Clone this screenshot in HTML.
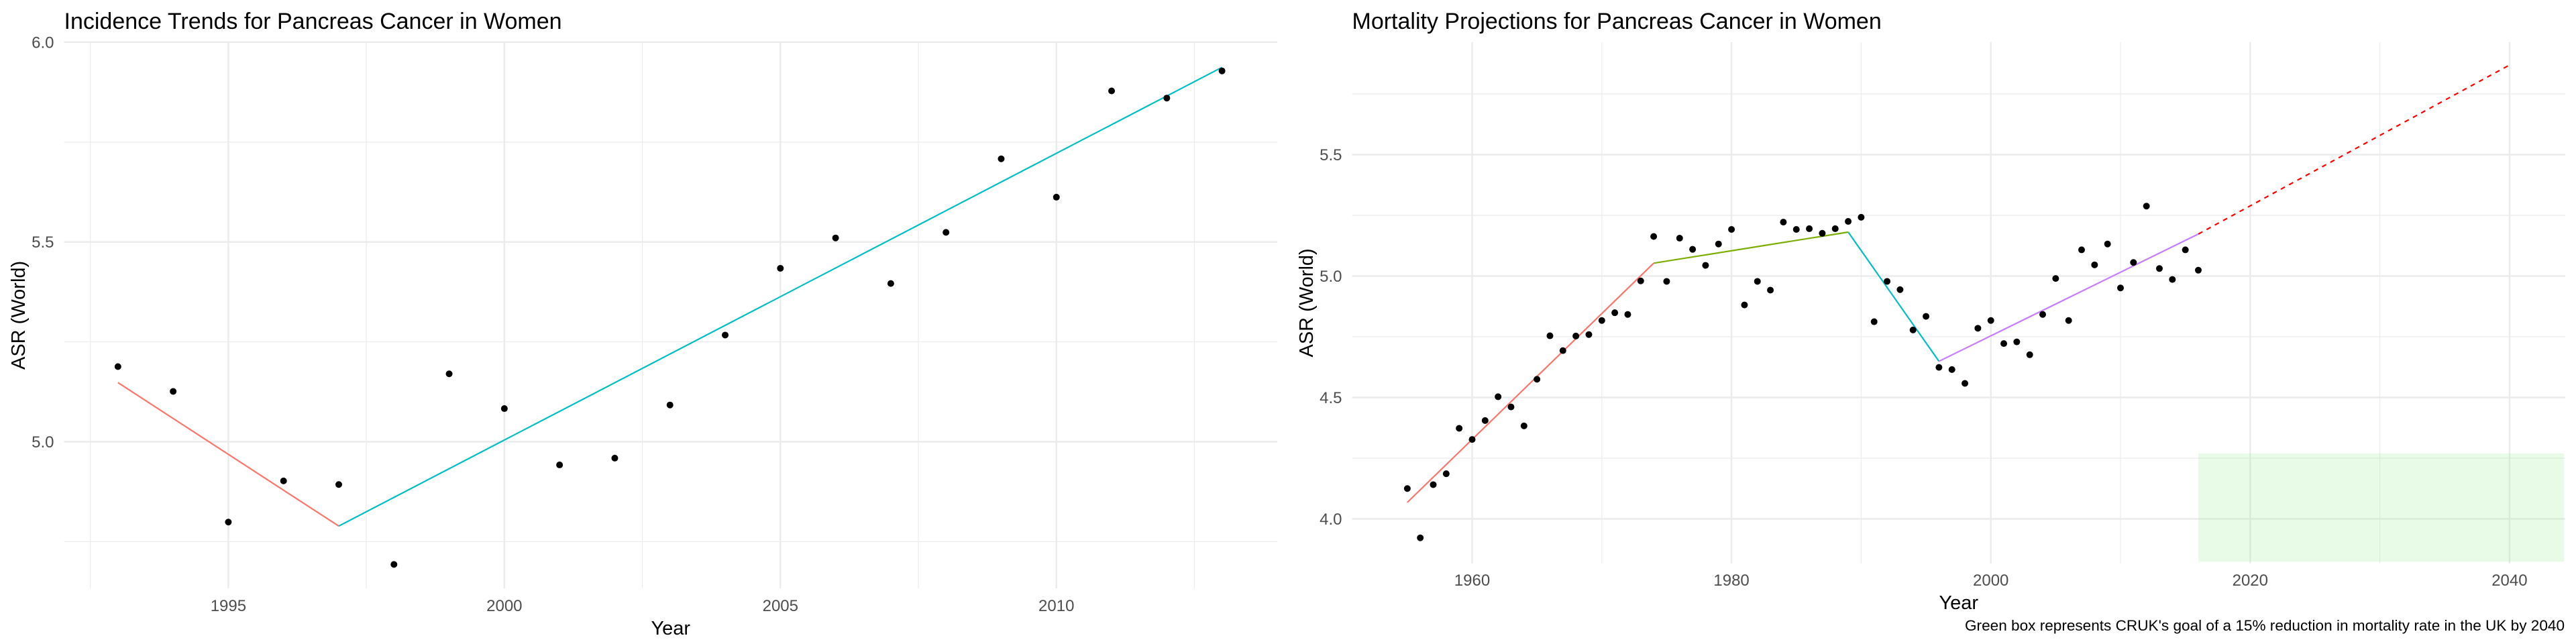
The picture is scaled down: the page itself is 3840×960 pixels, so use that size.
<!DOCTYPE html>
<html><head><meta charset="utf-8"><style>
html,body{margin:0;padding:0;background:#fff;}
svg{display:block;font-family:"Liberation Sans",Arial,sans-serif;}
</style></head><body>
<svg id="chart" width="3840" height="960" viewBox="0 0 3840 960" xmlns="http://www.w3.org/2000/svg">
<g id="left"></g>
<g id="right"></g>
</svg>
<script>
// ---------- Incidence data ----------
const incYears = [1993,1994,1995,1996,1997,1998,1999,2000,2001,2002,2003,2004,2005,2006,2007,2008,2009,2010,2011,2012,2013];
const incValues = [5.188,5.126,4.799,4.902,4.893,4.693,5.170,5.083,4.942,4.959,5.092,5.267,5.434,5.510,5.396,5.524,5.708,5.612,5.878,5.860,5.928];
const incSeg1Years = [1993,1997];
const incSeg1Values = [5.148,4.789];
const incSeg2Years = [1997,2013];
const incSeg2Values = [4.789,5.937];
const incXTicks = [1995,2000,2005,2010];
const incXMinor = [1992.5,1997.5,2002.5,2007.5,2012.5];
const incYTicks = [5.0,5.5,6.0];
const incYTickLabels = ["5.0","5.5","6.0"];
const incYMinor = [4.75,5.25,5.75];

// ---------- Mortality data ----------
const morYears = [1955,1956,1957,1958,1959,1960,1961,1962,1963,1964,1965,1966,1967,1968,1969,1970,1971,1972,1973,1974,1975,1976,1977,1978,1979,1980,1981,1982,1983,1984,1985,1986,1987,1988,1989,1990,1991,1992,1993,1994,1995,1996,1997,1998,1999,2000,2001,2002,2003,2004,2005,2006,2007,2008,2009,2010,2011,2012,2013,2014,2015,2016];
const morValues = [4.125,3.922,4.141,4.186,4.373,4.327,4.405,4.503,4.461,4.383,4.575,4.754,4.693,4.753,4.759,4.817,4.849,4.842,4.980,5.163,4.978,5.156,5.110,5.044,5.132,5.192,4.881,4.978,4.942,5.222,5.192,5.195,5.176,5.195,5.225,5.242,4.812,4.978,4.944,4.778,4.834,4.624,4.615,4.558,4.785,4.817,4.722,4.729,4.676,4.842,4.990,4.817,5.108,5.046,5.132,4.951,5.056,5.288,5.031,4.986,5.108,5.024];
const morSegYears = [1955,1974,1989,1996,2016];
const morSegValues = [4.068,5.053,5.181,4.649,5.173];
const morSegColors = ["#F8766D","#7CAE00","#00BFC4","#C77CFF"];
const projYears = [2016,2040];
const projValues = [5.173,5.869];
const goalBoxYears = [2016,2044.2];
const goalBoxValues = [3.824,4.27];
const morXTicks = [1960,1980,2000,2020,2040];
const morXMinor = [1970,1990,2010,2030];
const morYTicks = [4.0,4.5,5.0,5.5];
const morYTickLabels = ["4.0","4.5","5.0","5.5"];
const morYMinor = [4.25,4.75,5.25,5.75];

const NS="http://www.w3.org/2000/svg";
function mk(parent,tag,attrs,text){
  const e=document.createElementNS(NS,tag);
  for(const k in attrs) e.setAttribute(k,attrs[k]);
  if(text!==undefined) e.textContent=text;
  parent.appendChild(e);
  return e;
}

function panel(g, cfg){
  const x=v=>cfg.x0+(v-cfg.xv0)*cfg.xs;
  const y=v=>cfg.y0-(v-cfg.yv0)*cfg.ys;
  const L=cfg.left,R=cfg.right,T=cfg.top,B=cfg.bottom;
  cfg.yMinor.forEach(v=>{const l=mk(g,'line',{x1:L,x2:R,y1:y(v),y2:y(v),stroke:'#ebebeb','stroke-width':1.2});
    
    });
  cfg.xMinor.forEach(v=>{const l=mk(g,'line',{x1:x(v),x2:x(v),y1:T,y2:B,stroke:'#ebebeb','stroke-width':1.2});
    
    });
  cfg.yTicks.forEach((v,i)=>{const l=mk(g,'line',{x1:L,x2:R,y1:y(v),y2:y(v),stroke:'#ebebeb','stroke-width':2.4});
    
    
    const t=mk(g,'text',{x:L-15,y:y(v)+8.5,'text-anchor':'end','font-size':24,fill:'#4d4d4d'},cfg.yLabels[i]);
    
    });
  cfg.xTicks.forEach(v=>{const l=mk(g,'line',{x1:x(v),x2:x(v),y1:T,y2:B,stroke:'#ebebeb','stroke-width':2.4});
    
    
    const t=mk(g,'text',{x:x(v),y:cfg.xLabY,'text-anchor':'middle','font-size':24,fill:'#4d4d4d'},String(v));
    
    });
  if(cfg.extra) cfg.extra(g,x,y);
  cfg.segs.forEach(s=>{const l=mk(g,'line',{x1:x(s[0]),y1:y(s[1]),x2:x(s[2]),y2:y(s[3]),stroke:s[4],'stroke-width':2.2});
    
    });
  if(cfg.extraTop) cfg.extraTop(g,x,y);
  cfg.years.forEach((yr,i)=>{const c=mk(g,'circle',{cx:x(yr),cy:y(cfg.vals[i]),r:5,fill:'#000'});
    
    });
  const tt=mk(g,'text',{x:L,y:43,'font-size':34,fill:'#000'},cfg.title);
  
  
  const xt=mk(g,'text',{x:(L+R)/2,y:cfg.xTitleY,'text-anchor':'middle','font-size':29,fill:'#000'},'Year');
  
  
  const cy=(T+B)/2;
  const yt=mk(g,'text',{x:cfg.yTitleX,y:cy,'text-anchor':'middle','font-size':29,fill:'#000',transform:`rotate(-90 ${cfg.yTitleX} ${cy})`},'ASR (World)');
  
  
}

const incSegs=[[incSeg1Years[0],incSeg1Values[0],incSeg1Years[1],incSeg1Values[1],'#F8766D'],
               [incSeg2Years[0],incSeg2Values[0],incSeg2Years[1],incSeg2Values[1],'#00BFC4']];
panel(document.getElementById('left'),{
  x0:340.4,xv0:1995,xs:82.29,y0:658.5,yv0:5.0,ys:595.7,
  left:95.5,right:1904,top:62.8,bottom:877,
  yTicks:incYTicks,yLabels:incYTickLabels,yMinor:incYMinor,xTicks:incXTicks,xMinor:incXMinor,
  xLabY:911,xTitleY:946,yTitleX:37,
  years:incYears,vals:incValues,segs:incSegs,
  title:'Incidence Trends for Pancreas Cancer in Women'
});

const morSegs=[];
for(let i=0;i<morSegColors.length;i++) morSegs.push([morSegYears[i],morSegValues[i],morSegYears[i+1],morSegValues[i+1],morSegColors[i]]);
panel(document.getElementById('right'),{
  x0:2967.7,xv0:2000,xs:19.33,y0:411.5,yv0:5.0,ys:362,
  left:2015.5,right:3824,top:62.8,bottom:840,
  yTicks:morYTicks,yLabels:morYTickLabels,yMinor:morYMinor,xTicks:morXTicks,xMinor:morXMinor,
  xLabY:873,xTitleY:908,yTitleX:1957,
  years:morYears,vals:morValues,segs:morSegs,
  title:'Mortality Projections for Pancreas Cancer in Women',
  extra:(g,x,y)=>{
    const r=mk(g,'rect',{x:x(goalBoxYears[0]),y:y(goalBoxValues[1]),width:x(goalBoxYears[1])-x(goalBoxYears[0]),height:y(goalBoxValues[0])-y(goalBoxValues[1]),fill:'#90ee90','fill-opacity':0.22});
    
    
  },
  extraTop:(g,x,y)=>{
    const l=mk(g,'line',{x1:x(projYears[0]),y1:y(projValues[0]),x2:x(projYears[1]),y2:y(projValues[1]),stroke:'#FF0000','stroke-width':2.2,'stroke-dasharray':'7 7'});
    
    
  }
});
const svg=document.getElementById('chart');
const cap=mk(svg,'text',{x:3823,y:940,'text-anchor':'end','font-size':22,fill:'#000',textLength:894,lengthAdjust:'spacingAndGlyphs'},"Green box represents CRUK's goal of a 15% reduction in mortality rate in the UK by 2040");


</script>
</body></html>
